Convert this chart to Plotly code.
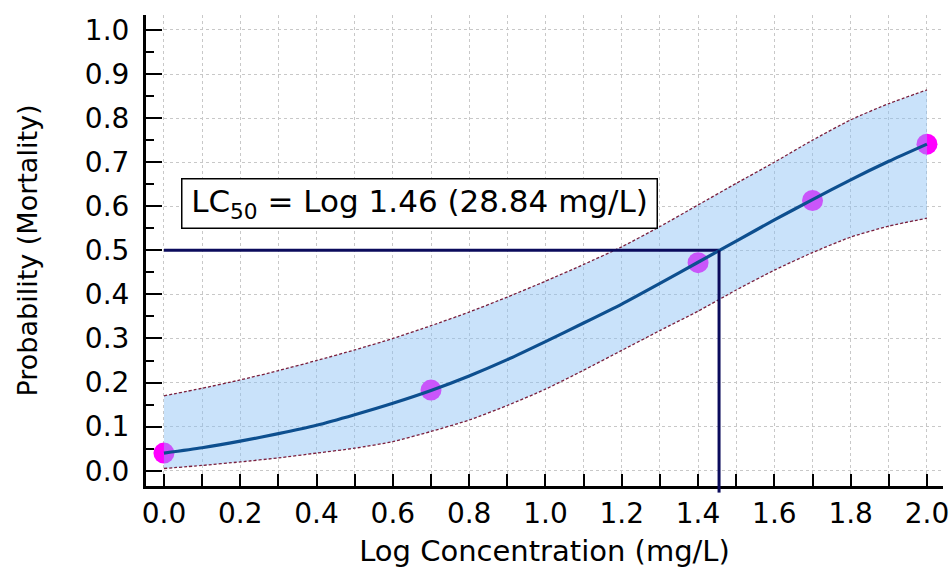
import plotly.graph_objects as go

# observed data points
obs_x = [0.0, 0.7, 1.4, 1.7, 2.0]
obs_y = [0.040, 0.183, 0.472, 0.613, 0.741]

# fitted curve and confidence band (at 0.1 steps)
grid_x = [0.0, 0.1, 0.2, 0.3, 0.4, 0.5, 0.6, 0.7, 0.8, 0.9, 1.0,
          1.1, 1.2, 1.3, 1.4, 1.5, 1.6, 1.7, 1.8, 1.9, 2.0]
fit_y = [0.040, 0.052, 0.067, 0.084, 0.103, 0.127, 0.153, 0.182, 0.215, 0.252, 0.293,
         0.335, 0.378, 0.425, 0.473, 0.521, 0.569, 0.615, 0.660, 0.702, 0.741]
upper = [0.170, 0.187, 0.206, 0.227, 0.250, 0.274, 0.300, 0.329, 0.360, 0.394, 0.430,
         0.468, 0.508, 0.554, 0.603, 0.652, 0.700, 0.750, 0.796, 0.833, 0.864]
lower = [0.005, 0.012, 0.020, 0.029, 0.040, 0.051, 0.066, 0.089, 0.115, 0.148, 0.185,
         0.228, 0.273, 0.318, 0.362, 0.410, 0.455, 0.495, 0.530, 0.555, 0.573]

lc50_x = 1.455
lc50_y = 0.5
lc50_text = "LC<sub>50</sub> = Log 1.46 (28.84 mg/L)"

X_RANGE = [-0.047, 2.042]
Y_RANGE = [-0.0347, 1.034]

FONT = "DejaVu Sans"

fig = go.Figure()

# data markers (under the band so the band tints them)
fig.add_trace(go.Scatter(
    x=obs_x, y=obs_y, mode="markers",
    marker=dict(size=21, color="#ff00ff", line=dict(width=0)),
    showlegend=False, cliponaxis=False))

# confidence band
fig.add_trace(go.Scatter(
    x=grid_x, y=lower, mode="lines",
    line=dict(color="#7a1f3d", width=1.3, dash="3px,2px", shape="spline", smoothing=0.6),
    showlegend=False))
fig.add_trace(go.Scatter(
    x=grid_x, y=upper, mode="lines",
    line=dict(color="#7a1f3d", width=1.3, dash="3px,2px", shape="spline", smoothing=0.6),
    fill="tonexty", fillcolor="rgba(135,190,245,0.45)", showlegend=False))

# LC50 horizontal guide
fig.add_trace(go.Scatter(
    x=[0.0, lc50_x], y=[lc50_y, lc50_y], mode="lines",
    line=dict(color="#0b0b5c", width=3), showlegend=False))

# fitted curve
fig.add_trace(go.Scatter(
    x=grid_x, y=fit_y, mode="lines",
    line=dict(color="#0d4f8f", width=3.2, shape="spline", smoothing=0.6), showlegend=False))

# LC50 vertical guide (extends a little below the axis)
y1_frac = (lc50_y - Y_RANGE[0]) / (Y_RANGE[1] - Y_RANGE[0])
fig.add_shape(type="line", xref="x", yref="y domain",
              x0=lc50_x, x1=lc50_x, y0=-0.014, y1=y1_frac,
              line=dict(color="#0b0b5c", width=3), layer="above")

fig.add_annotation(
    x=0.671, y=0.606, xref="x", yref="y", text=lc50_text, showarrow=False,
    font=dict(family=FONT, size=31, color="black"),
    bgcolor="white", bordercolor="black", borderwidth=1.5, borderpad=2,
    width=470, height=44)

fig.update_layout(
    width=952, height=569,
    margin=dict(l=146, r=9, t=15, b=83),
    paper_bgcolor="white", plot_bgcolor="white",
    font=dict(family=FONT, color="black"),
)

grid_style = dict(gridcolor="#c8c8c8", gridwidth=1, griddash="dot")

fig.update_xaxes(
    range=X_RANGE, tick0=0, dtick=0.2, tickformat=".1f",
    ticks="inside", ticklen=12, tickwidth=2, tickcolor="black",
    minor=dict(dtick=0.1, tick0=0, ticks="inside", ticklen=12, tickwidth=2, tickcolor="black",
               showgrid=True, **grid_style),
    showline=True, linewidth=3, linecolor="black",
    showgrid=True, **grid_style,
    zeroline=False, automargin=False,
    tickfont=dict(family=FONT, size=28, color="black"),
    title=dict(text="Log Concentration (mg/L)", font=dict(family=FONT, size=29, color="black"), standoff=13),
)
fig.update_yaxes(
    range=Y_RANGE, tick0=0, dtick=0.1, tickformat=".1f",
    ticks="inside", ticklen=16, tickwidth=2, tickcolor="black",
    minor=dict(dtick=0.05, tick0=0, ticks="inside", ticklen=8, tickwidth=1.5, tickcolor="black", showgrid=False),
    showline=True, linewidth=3, linecolor="black",
    showgrid=True, **grid_style,
    zeroline=False, automargin=False, ticklabelstandoff=8,
    tickfont=dict(family=FONT, size=28, color="black"),
    title=dict(text="Probability (Mortality)", font=dict(family=FONT, size=27, color="black"), standoff=40),
)

fig.write_html(
    "out.html",
    config={"displayModeBar": False},
    post_script="document.body.style.margin='0px';document.body.style.overflow='hidden';",
)
